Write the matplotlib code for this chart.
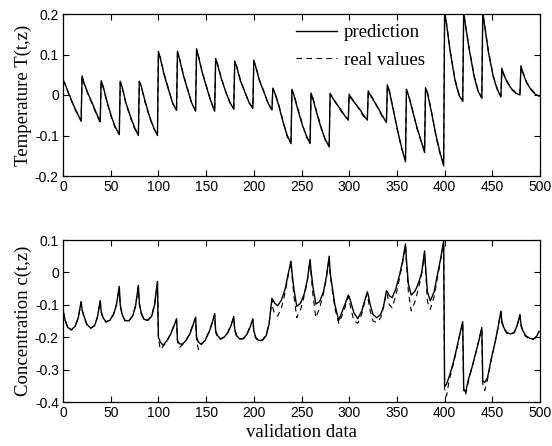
import numpy as np
import matplotlib
matplotlib.use("Agg")
import matplotlib.pyplot as plt

# validation data is made of 25 runs of 20 samples each
seg_starts = list(range(0, 500, 20))
top_offsets = [0, 2, 6, 11, 15, 19]
bot_offsets = [0, 2, 5, 9, 13, 16, 19]

# Temperature T(t,z), values read per run at top_offsets
temp_pred = [
    [0.038, 0.028, 0.004, -0.025, -0.045, -0.065],
    [0.047, 0.030, 0.005, -0.022, -0.045, -0.066],
    [0.035, 0.022, -0.015, -0.055, -0.080, -0.098],
    [0.034, 0.020, -0.020, -0.055, -0.080, -0.100],
    [0.034, 0.022, -0.015, -0.055, -0.080, -0.100],
    [0.108, 0.090, 0.050, 0.010, -0.020, -0.038],
    [0.108, 0.090, 0.050, 0.010, -0.020, -0.040],
    [0.114, 0.095, 0.055, 0.015, -0.015, -0.040],
    [0.090, 0.075, 0.040, 0.005, -0.018, -0.035],
    [0.084, 0.070, 0.035, 0.005, -0.018, -0.033],
    [0.086, 0.070, 0.035, 0.005, -0.020, -0.037],
    [0.017, 0.005, -0.025, -0.070, -0.100, -0.120],
    [0.014, 0.000, -0.035, -0.075, -0.100, -0.120],
    [0.005, -0.010, -0.045, -0.085, -0.110, -0.128],
    [0.004, -0.005, -0.020, -0.035, -0.050, -0.062],
    [0.002, -0.008, -0.020, -0.035, -0.050, -0.062],
    [0.010, 0.000, -0.015, -0.035, -0.052, -0.068],
    [0.025, 0.010, -0.035, -0.090, -0.130, -0.165],
    [0.014, 0.000, -0.035, -0.080, -0.110, -0.142],
    [0.018, 0.005, -0.040, -0.100, -0.140, -0.175],
    [0.205, 0.175, 0.105, 0.035, 0.000, -0.016],
    [0.205, 0.170, 0.110, 0.045, 0.010, -0.008],
    [0.205, 0.170, 0.105, 0.045, 0.015, -0.005],
    [0.066, 0.050, 0.030, 0.012, 0.004, 0.000],
    [0.072, 0.055, 0.030, 0.012, 0.002, -0.003],
]
temp_real = [
    [0.035, 0.028, 0.002, -0.027, -0.048, -0.062],
    [0.045, 0.028, 0.002, -0.025, -0.048, -0.068],
    [0.033, 0.020, -0.018, -0.058, -0.083, -0.095],
    [0.032, 0.018, -0.022, -0.058, -0.084, -0.097],
    [0.032, 0.020, -0.018, -0.058, -0.083, -0.098],
    [0.103, 0.093, 0.053, 0.012, -0.022, -0.036],
    [0.103, 0.092, 0.052, 0.012, -0.022, -0.038],
    [0.110, 0.097, 0.057, 0.017, -0.017, -0.038],
    [0.087, 0.077, 0.042, 0.006, -0.020, -0.033],
    [0.081, 0.072, 0.037, 0.006, -0.020, -0.031],
    [0.083, 0.072, 0.037, 0.006, -0.022, -0.035],
    [0.014, 0.007, -0.022, -0.067, -0.103, -0.117],
    [0.011, 0.003, -0.032, -0.072, -0.103, -0.118],
    [0.002, -0.007, -0.042, -0.082, -0.112, -0.125],
    [0.002, -0.003, -0.018, -0.038, -0.053, -0.060],
    [0.000, -0.006, -0.018, -0.038, -0.053, -0.060],
    [0.008, 0.002, -0.013, -0.038, -0.055, -0.066],
    [0.022, 0.012, -0.032, -0.093, -0.133, -0.160],
    [0.011, 0.003, -0.032, -0.083, -0.113, -0.138],
    [0.015, 0.007, -0.037, -0.103, -0.143, -0.170],
    [0.198, 0.178, 0.108, 0.038, 0.003, -0.013],
    [0.200, 0.173, 0.113, 0.048, 0.012, -0.006],
    [0.200, 0.173, 0.108, 0.048, 0.017, -0.003],
    [0.062, 0.052, 0.032, 0.014, 0.005, 0.002],
    [0.068, 0.057, 0.032, 0.014, 0.004, -0.001],
]

# Concentration c(t,z), values read per run at bot_offsets
conc_pred = [
    [-0.115, -0.145, -0.170, -0.177, -0.165, -0.140, -0.090],
    [-0.115, -0.135, -0.160, -0.172, -0.165, -0.140, -0.087],
    [-0.120, -0.140, -0.152, -0.148, -0.130, -0.100, -0.043],
    [-0.100, -0.130, -0.148, -0.150, -0.135, -0.105, -0.040],
    [-0.095, -0.125, -0.145, -0.148, -0.135, -0.100, -0.028],
    [-0.200, -0.215, -0.225, -0.210, -0.190, -0.168, -0.143],
    [-0.210, -0.220, -0.222, -0.210, -0.190, -0.165, -0.138],
    [-0.200, -0.215, -0.222, -0.210, -0.185, -0.160, -0.127],
    [-0.180, -0.195, -0.205, -0.200, -0.185, -0.165, -0.136],
    [-0.175, -0.195, -0.205, -0.205, -0.190, -0.170, -0.143],
    [-0.180, -0.200, -0.210, -0.210, -0.195, -0.160, -0.080],
    [-0.085, -0.095, -0.103, -0.085, -0.050, -0.005, 0.035],
    [0.000, -0.050, -0.105, -0.095, -0.065, -0.025, 0.040],
    [0.005, -0.045, -0.098, -0.090, -0.060, -0.015, 0.050],
    [0.000, -0.040, -0.100, -0.148, -0.118, -0.095, -0.070],
    [-0.075, -0.095, -0.125, -0.143, -0.120, -0.090, -0.060],
    [-0.070, -0.100, -0.130, -0.140, -0.130, -0.105, -0.057],
    [-0.060, -0.072, -0.078, -0.050, -0.005, 0.035, 0.088],
    [0.040, -0.035, -0.070, -0.058, -0.030, 0.000, 0.066],
    [0.020, -0.060, -0.088, -0.060, 0.000, 0.045, 0.097],
    [-0.352, -0.345, -0.320, -0.280, -0.230, -0.190, -0.152],
    [-0.360, -0.370, -0.330, -0.290, -0.245, -0.210, -0.170],
    [-0.335, -0.340, -0.325, -0.265, -0.215, -0.170, -0.120],
    [-0.150, -0.170, -0.185, -0.190, -0.185, -0.165, -0.130],
    [-0.160, -0.180, -0.195, -0.203, -0.206, -0.200, -0.182],
]
conc_real = [
    [-0.118, -0.147, -0.172, -0.178, -0.163, -0.138, -0.093],
    [-0.118, -0.138, -0.162, -0.173, -0.163, -0.138, -0.090],
    [-0.123, -0.142, -0.154, -0.147, -0.128, -0.098, -0.047],
    [-0.103, -0.132, -0.150, -0.149, -0.133, -0.103, -0.045],
    [-0.098, -0.128, -0.147, -0.147, -0.133, -0.098, -0.032],
    [-0.205, -0.238, -0.228, -0.213, -0.188, -0.165, -0.147],
    [-0.215, -0.232, -0.224, -0.208, -0.188, -0.162, -0.142],
    [-0.210, -0.238, -0.222, -0.208, -0.183, -0.158, -0.130],
    [-0.185, -0.200, -0.207, -0.199, -0.183, -0.162, -0.140],
    [-0.180, -0.198, -0.207, -0.203, -0.188, -0.168, -0.147],
    [-0.185, -0.203, -0.212, -0.208, -0.193, -0.158, -0.085],
    [-0.110, -0.130, -0.135, -0.110, -0.060, -0.010, 0.030],
    [-0.010, -0.070, -0.140, -0.115, -0.070, -0.030, 0.035],
    [-0.005, -0.070, -0.140, -0.110, -0.065, -0.020, 0.045],
    [-0.005, -0.050, -0.110, -0.157, -0.130, -0.105, -0.075],
    [-0.085, -0.115, -0.150, -0.157, -0.130, -0.095, -0.065],
    [-0.085, -0.120, -0.150, -0.155, -0.140, -0.108, -0.062],
    [-0.070, -0.100, -0.109, -0.070, -0.015, 0.030, 0.082],
    [0.030, -0.060, -0.119, -0.090, -0.045, -0.005, 0.060],
    [0.010, -0.090, -0.114, -0.075, -0.010, 0.040, 0.090],
    [-0.360, -0.382, -0.330, -0.285, -0.235, -0.190, -0.155],
    [-0.365, -0.378, -0.335, -0.290, -0.245, -0.207, -0.172],
    [-0.345, -0.365, -0.330, -0.270, -0.215, -0.168, -0.122],
    [-0.155, -0.172, -0.188, -0.192, -0.186, -0.163, -0.133],
    [-0.165, -0.183, -0.198, -0.205, -0.207, -0.198, -0.185],
]


def flatten(rows, offsets):
    xs, ys = [], []
    for start, row in zip(seg_starts, rows):
        for off, val in zip(offsets, row):
            xs.append(start + off)
            ys.append(val)
    return np.array(xs), np.array(ys)


SERIF = ['Liberation Serif', 'DejaVu Serif']
SANS = ['Liberation Sans', 'DejaVu Sans']
plt.rcParams['font.family'] = SANS

fig = plt.figure(figsize=(5.52, 4.46), dpi=100)
ax1 = fig.add_axes([63 / 552, 1 - 176 / 446, 477 / 552, 162 / 446])
ax2 = fig.add_axes([63 / 552, 1 - 402 / 446, 477 / 552, 162 / 446])

x, y = flatten(temp_pred, top_offsets)
ax1.plot(x, y, color='black', lw=1.0, label='prediction')
x, y = flatten(temp_real, top_offsets)
ax1.plot(x, y, color='black', lw=0.8, ls=(0, (5, 4)), label='real values')

x, y = flatten(conc_pred, bot_offsets)
ax2.plot(x, y, color='black', lw=1.0)
x, y = flatten(conc_real, bot_offsets)
ax2.plot(x, y, color='black', lw=0.8, ls=(0, (5, 4)))

ax1.set_ylim(-0.2, 0.2)
ax1.set_yticks([-0.2, -0.1, 0, 0.1, 0.2])
ax1.set_yticklabels(['-0.2', '-0.1', '0', '0.1', '0.2'])
ax2.set_ylim(-0.4, 0.1)
ax2.set_yticks([-0.4, -0.3, -0.2, -0.1, 0, 0.1])
ax2.set_yticklabels(['-0.4', '-0.3', '-0.2', '-0.1', '0', '0.1'])

for ax in (ax1, ax2):
    ax.set_xlim(0, 500)
    ax.set_xticks(range(0, 501, 50))
    ax.tick_params(direction='in', top=True, right=True, length=4, width=0.8,
                   labelsize=10, pad=3)
    for sp in ax.spines.values():
        sp.set_linewidth(0.9)

ax1.set_ylabel('Temperature T(t,z)', family=SERIF, fontsize=13.5, labelpad=2)
ax2.set_ylabel('Concentration c(t,z)', family=SERIF, fontsize=13.5, labelpad=2)
ax2.set_xlabel('validation data', family=SERIF, fontsize=13.5, labelpad=3)

ax1.legend(loc='upper left', bbox_to_anchor=(296 / 552, 1 - 24 / 446),
           bbox_transform=fig.transFigure, frameon=False, borderpad=0,
           borderaxespad=0, handlelength=2.2, handletextpad=0.35,
           labelspacing=0.57, prop={'family': SERIF, 'size': 13.5})

fig.savefig('out.png', dpi=100)
